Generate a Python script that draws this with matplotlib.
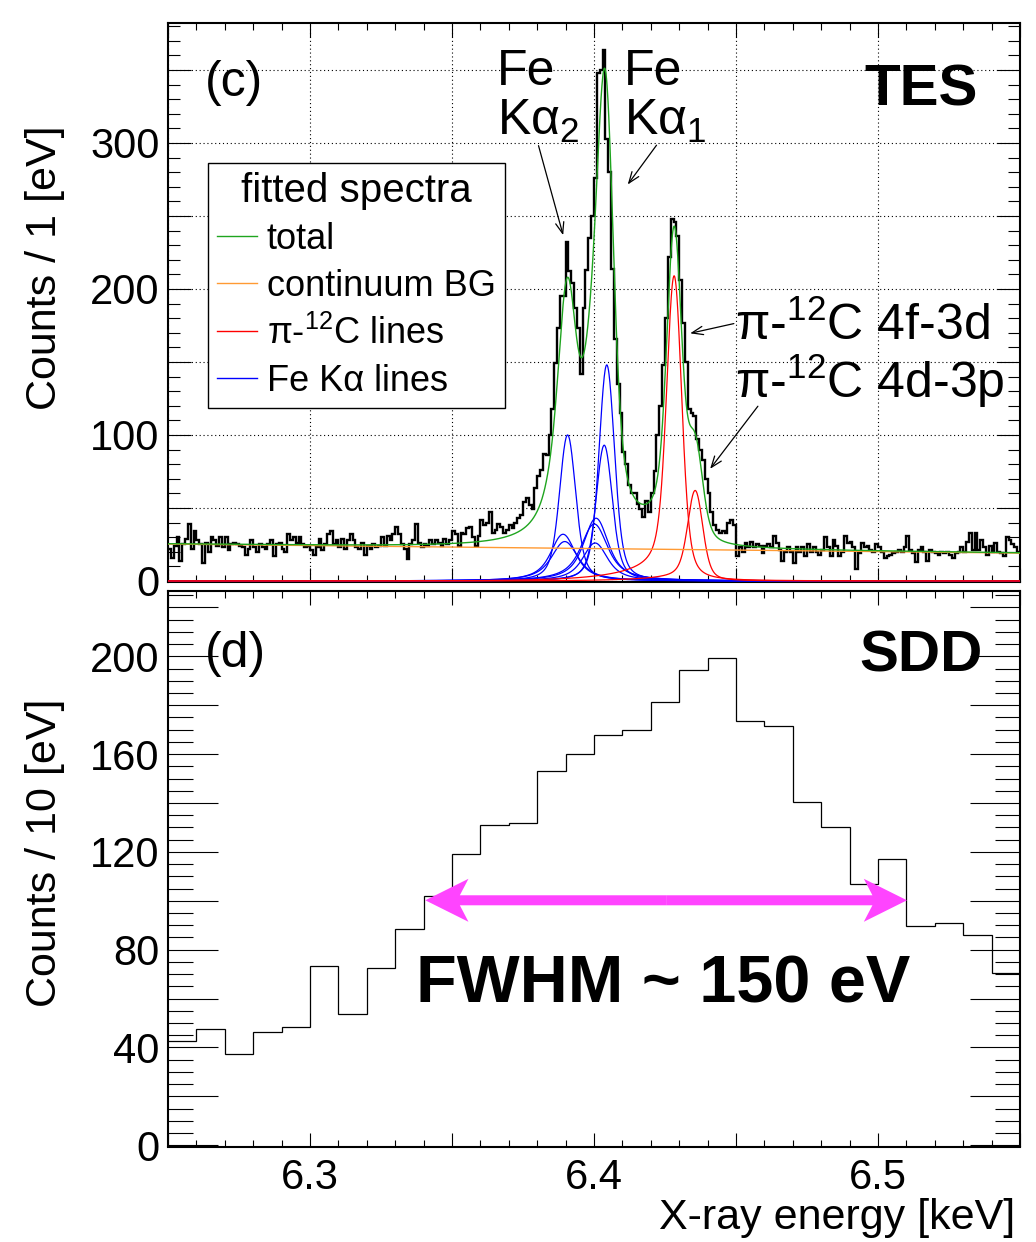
import numpy as np
import matplotlib
matplotlib.use("Agg")
import matplotlib.pyplot as plt
from matplotlib.ticker import MultipleLocator, FuncFormatter
from matplotlib.lines import Line2D
from matplotlib.patches import FancyArrow

plt.rcParams["font.family"] = ["Liberation Sans", "DejaVu Sans"]
plt.rcParams["mathtext.fontset"] = "custom"
plt.rcParams["mathtext.rm"] = "Liberation Sans"
plt.rcParams["mathtext.it"] = "Liberation Sans:italic"
plt.rcParams["mathtext.bf"] = "Liberation Sans:bold"

# ── data ─────────────────────────────────────────────────────────
# TES spectrum, 1 eV bins from 6.250 to 6.550 keV
tes_range = (6.250, 6.550)
tes_counts = [
    # 6.250 - 6.358
    22, 16, 24, 30, 14, 25, 29, 39, 22, 34,
    28, 25, 12, 26, 20, 30, 28, 24, 30, 23,
    30, 21, 25, 26, 25, 24, 23, 18, 22, 28,
    23, 20, 25, 23, 22, 25, 28, 17, 25, 26,
    22, 20, 32, 28, 30, 26, 30, 25, 23, 24,
    21, 18, 23, 29, 21, 25, 32, 34, 25, 28,
    23, 29, 22, 28, 32, 28, 23, 22, 26, 18,
    24, 22, 25, 23, 24, 30, 24, 31, 28, 32,
    37, 32, 25, 22, 15, 25, 28, 39, 26, 23,
    25, 24, 28, 25, 28, 26, 24, 29, 25, 28,
    34, 32, 24, 33, 32, 36, 37, 30, 24,
    # 6.359 - 6.449
    31, 42, 38, 40, 47, 33, 35, 39, 37, 33,
    35, 38, 36, 40, 43, 45, 54, 57, 52, 49,
    64, 72, 76, 87, 86, 100, 118, 149, 173, 195,
    195, 232, 212, 204, 187, 173, 142, 187, 213, 235,
    250, 276, 348, 350, 364, 303, 280, 214, 166, 135,
    115, 88, 80, 66, 60, 60, 53, 49, 44, 55,
    47, 60, 75, 100, 120, 148, 180, 222, 248, 246,
    236, 206, 177, 150, 118, 115, 113, 97, 90, 83,
    70, 60, 47, 38, 35, 33, 34, 33, 40, 42,
    38,
    # 6.450 - 6.549
    17, 23, 20, 26, 23, 27, 23, 25, 24, 19,
    24, 25, 23, 31, 26, 21, 14, 20, 23, 20,
    12, 23, 20, 23, 17, 25, 20, 23, 20, 18,
    21, 30, 23, 17, 28, 24, 17, 20, 31, 26,
    27, 23, 8, 19, 26, 23, 24, 21, 20, 25,
    23, 20, 16, 17, 18, 19, 20, 21, 20, 23,
    31, 21, 19, 13, 21, 23, 20, 14, 21, 20,
    19, 18, 20, 19, 20, 18, 16, 19, 20, 23,
    20, 27, 33, 21, 33, 21, 28, 23, 18, 24,
    20, 26, 20, 19, 17, 30, 28, 25, 23, 20,
]

# SDD spectrum, 10 eV bins over the same range
sdd_counts = [42.5, 47.5, 37.5, 46.5, 48.5, 73.5, 53.5, 72.5, 88.5, 102,
              119, 131, 132, 153, 160, 168, 170, 181.5, 194.5, 199.5,
              173.5, 171.5, 140.5, 130, 107, 117, 89.5, 91, 86, 70.5]

# fitted components
bg_ends = (25.3, 19.1)                       # continuum BG at 6.25 / 6.55 keV
fe_center = [6.4045, 6.4036, 6.4007, 6.4001, 6.4004, 6.3907, 6.3891, 6.3897]
fe_height = [148, 93, 43, 39, 26, 100, 32, 27]
fe_gamma = [2.5, 3.0, 8.0, 9.0, 8.0, 3.0, 8.0, 9.0]     # eV (Lorentz FWHM)
pic_center = [6.4283, 6.4357]
pic_height = [209, 62]
pic_gamma = [2.2, 2.2]
pic_tail = [18, 5]                                       # low-energy tail
det_fwhm = 5.0                                           # eV

legend_labels = ["total", "continuum BG",
                 r"π-$\mathregular{^{12}}$C lines", "Fe Kα lines"]
c_total, c_bg, c_pic, c_fe = "#1fa51f", "#ff9a33", "#ff0000", "#0000ff"


# ── line shapes ──────────────────────────────────────────────────
E = np.arange(6.20, 6.60, 0.0001)
_kx = np.arange(-20, 20.0001, 0.1)
_sig = det_fwhm / 2.3548
_kern = np.exp(-0.5 * (_kx / _sig) ** 2)
_kern /= _kern.sum()


def line_shape(center, gamma, height, tail=0.0, tau=15.0):
    x = (E - center) * 1000.0
    prof = np.convolve((gamma / 2) ** 2 / (x ** 2 + (gamma / 2) ** 2), _kern, mode="same")
    prof /= prof.max()
    if tail:
        t = np.convolve(np.where(x < 0, np.exp(x / tau), 0.0), _kern, mode="same")
        prof = prof + tail / height * t
        prof /= prof.max()
    return height * prof


bg = bg_ends[0] + (bg_ends[1] - bg_ends[0]) * (E - 6.25) / 0.30
fe_lines = [line_shape(c, g, h) for c, g, h in zip(fe_center, fe_gamma, fe_height)]
pic_lines = [line_shape(c, g, h, t)
             for c, g, h, t in zip(pic_center, pic_gamma, pic_height, pic_tail)]
total = bg + sum(fe_lines) + sum(pic_lines)

# ── figure ───────────────────────────────────────────────────────
W, H = 1036, 1242
fig = plt.figure(figsize=(W / 100, H / 100), dpi=100)
ax1 = fig.add_axes([168 / W, 1 - 582 / H, 852 / W, (582 - 22.5) / H])
ax2 = fig.add_axes([168 / W, 1 - 1146.5 / H, 852 / W, (1146.5 - 591) / H])

sel = (E >= tes_range[0]) & (E <= tes_range[1])
edges1 = np.linspace(tes_range[0], tes_range[1], len(tes_counts) + 1)
ax1.stairs(tes_counts, edges1, baseline=None, color="black", lw=1.7, zorder=2)
for y in fe_lines:
    ax1.plot(E[sel], y[sel], color=c_fe, lw=0.9, zorder=3)
for y in pic_lines:
    ax1.plot(E[sel], y[sel], color=c_pic, lw=0.9, zorder=3)
ax1.plot(E[sel], bg[sel], color=c_bg, lw=1.0, zorder=3)
ax1.plot(E[sel], total[sel], color=c_total, lw=1.0, zorder=4)

edges2 = np.linspace(tes_range[0], tes_range[1], len(sdd_counts) + 1)
ax2.stairs(sdd_counts, edges2, baseline=None, color="black", lw=0.9)

ax1.set_xlim(*tes_range)
ax2.set_xlim(*tes_range)
ax1.set_ylim(-0.7, 382.5)
ax2.set_ylim(-0.5, 226.7)


def every(step, fmt):
    def f(v, _):
        r = v / step
        return fmt.format(v) if abs(r - round(r)) < 1e-6 else ""
    return FuncFormatter(f)


for ax in (ax1, ax2):
    ax.xaxis.set_major_locator(MultipleLocator(0.05))
    ax.xaxis.set_minor_locator(MultipleLocator(0.01))
    ax.tick_params(which="both", direction="in", top=True, right=True,
                   width=0.8, labelsize=30, pad=6)
    ax.tick_params(axis="x", which="major", length=10, pad=8)
    ax.tick_params(axis="x", which="minor", length=5)
    for s in ax.spines.values():
        s.set_linewidth(1.5)

ax1.yaxis.set_major_locator(MultipleLocator(50))
ax1.yaxis.set_minor_locator(MultipleLocator(10))
ax1.yaxis.set_major_formatter(every(100, "{:.0f}"))
ax1.tick_params(axis="y", which="major", length=16.5)
ax1.tick_params(axis="y", which="minor", length=8.5)
ax1.tick_params(axis="x", labelbottom=False)
ax1.grid(True, which="major", color="black", lw=0.8, ls=(0, (1, 2.5)))

ax2.yaxis.set_major_locator(MultipleLocator(20))
ax2.yaxis.set_minor_locator(MultipleLocator(5))
ax2.yaxis.set_major_formatter(every(40, "{:.0f}"))
ax2.xaxis.set_major_formatter(every(0.1, "{:.1f}"))
ax2.tick_params(axis="y", which="major", length=36)
ax2.tick_params(axis="y", which="minor", length=18)

# axis titles
fig.text(45 / W, 1 - 125 / H, "Counts / 1 [eV]", rotation=90, ha="center",
         va="top", fontsize=31)
fig.text(45 / W, 1 - 698 / H, "Counts / 10 [eV]", rotation=90, ha="center",
         va="top", fontsize=31)
fig.text(1015 / W, 1 - 1198 / H, "X-ray energy [keV]", ha="right", va="top",
         fontsize=31)

# panel labels
ax1.text(6.2629, 341, "(c)", fontsize=36, va="center", ha="left")
ax2.text(6.2629, 201, "(d)", fontsize=36, va="center", ha="left")
ax1.text(6.535, 336, "TES", fontsize=42, fontweight="bold", va="center", ha="right")
ax2.text(6.537, 200, "SDD", fontsize=42, fontweight="bold", va="center", ha="right")

# peak annotations
for x0, sub in ((6.3658, "2"), (6.4104, "1")):
    ax1.text(x0, 339.7, "Fe", fontsize=36, va="baseline")
    ax1.text(x0, 305.5, r"K$\mathregular{\alpha_{%s}}$" % sub, fontsize=36, va="baseline")
ax1.text(6.4498, 165, r"π-$\mathregular{^{12}}$C 4f-3d", fontsize=36, va="baseline")
ax1.text(6.4498, 125.3, r"π-$\mathregular{^{12}}$C 4d-3p", fontsize=36, va="baseline")

arrow_kw = dict(arrowstyle="->,head_length=0.8,head_width=0.3", color="black", lw=0.9)
for tip, tail in (((6.3894, 235), (6.3802, 300)),
                  ((6.4113, 270), (6.4226, 300)),
                  ((6.4329, 169.2), (6.4502, 176.7)),
                  ((6.4403, 75.3), (6.4583, 121.2))):
    ax1.annotate("", xy=tip, xytext=tail, arrowprops=arrow_kw)

# legend
handles = [Line2D([], [], color=c, lw=1.0) for c in (c_total, c_bg, c_pic, c_fe)]
leg = ax1.legend(handles, legend_labels, title="fitted spectra", loc="upper left",
                 bbox_to_anchor=(0.047, 0.749), borderaxespad=0, fontsize=26,
                 title_fontsize=29, fancybox=False, framealpha=1, edgecolor="black",
                 handlelength=1.1, handletextpad=0.28, labelspacing=0.33,
                 borderpad=0.25)
leg.get_frame().set_linewidth(1.0)

# FWHM marker on the SDD spectrum
fw_lo, fw_hi, fw_y = 6.3406, 6.5102, 100.2
mid = 0.5 * (fw_lo + fw_hi)
for end in (fw_lo, fw_hi):
    ax2.add_patch(FancyArrow(mid, fw_y, end - mid, 0, width=4.1, head_width=17.6,
                             head_length=0.0152, length_includes_head=True,
                             overhang=0.2, color="#ff44ff", lw=0))
ax2.text(6.4244, 65.4, "FWHM ~ 150 eV", fontsize=48, fontweight="bold",
         ha="center", va="center")

fig.savefig("out.png", dpi=100)
